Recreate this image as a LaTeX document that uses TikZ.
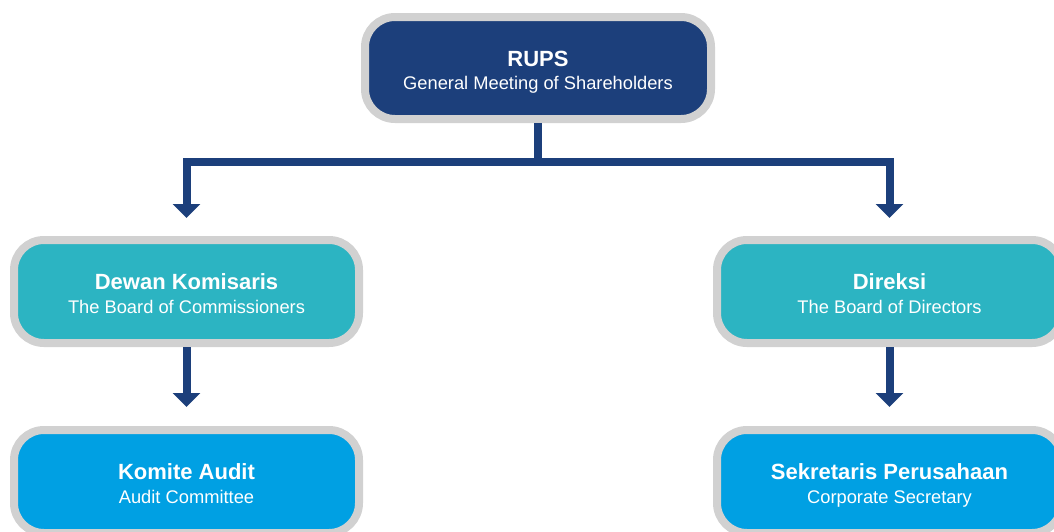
\documentclass[tikz,border=0pt]{standalone}
\usepackage{fontspec}
\setmainfont{Liberation Sans}
\usetikzlibrary{arrows.meta,calc}
\definecolor{navy}{RGB}{28,63,123}
\definecolor{teal}{RGB}{44,180,194}
\definecolor{sky}{RGB}{0,160,227}
\definecolor{rim}{RGB}{209,209,209}
\tikzset{
  box/.style={draw=rim, line width=8pt, rounded corners=30pt, minimum width=345pt, minimum height=103pt, inner sep=0pt, outer sep=4pt},
  ttl/.style={anchor=base, text=white, font=\fontsize{22}{26}\selectfont\bfseries, inner sep=0pt},
  sub/.style={anchor=base, text=white, font=\fontsize{18.3}{22}\selectfont, inner sep=0pt},
  conn/.style={draw=navy, line width=8pt, line join=miter},
  arr/.style={conn, -{Triangle[length=14pt 0 0, width=27pt 0 0]}}
}
\begin{document}
\begin{tikzpicture}[x=1pt,y=-1pt]
\useasboundingbox (0,0) rectangle (1054,531);
\clip (0,0) rectangle (1054,531);
\fill[white] (0,0) rectangle (1054,531);
% boxes
\node[box, fill=navy, minimum width=346pt, minimum height=102pt] (rups) at (538,68) {};
\node[box, fill=teal] (dk) at (186.5,291.5) {};
\node[box, fill=teal] (dir) at (889.5,291.5) {};
\node[box, fill=sky] (ka) at (186.5,481.5) {};
\node[box, fill=sky] (sp) at (889.5,481.5) {};
% texts
\node[ttl] (rupsT) at ($(rups.center)+(0,-2)$) {RUPS};
\node[sub] (rupsS) at ($(rups.center)+(0,21.5)$) {General Meeting of Shareholders};
\node[ttl] (dkT) at ($(dk.center)+(0,-2)$) {Dewan Komisaris};
\node[sub] (dkS) at ($(dk.center)+(0,22)$) {The Board of Commissioners};
\node[ttl] (dirT) at ($(dir.center)+(0,-2)$) {Direksi};
\node[sub] (dirS) at ($(dir.center)+(0,22)$) {The Board of Directors};
\node[ttl] (kaT) at ($(ka.center)+(0,-2)$) {Komite Audit};
\node[sub] (kaS) at ($(ka.center)+(0,22)$) {Audit Committee};
\node[ttl] (spT) at ($(sp.center)+(0,-2)$) {Sekretaris Perusahaan};
\node[sub] (spS) at ($(sp.center)+(0,22)$) {Corporate Secretary};
% connectors
\coordinate (hub) at (538,162);
\draw[conn] (rups.south) -- ($(hub)+(0,4)$);
\draw[arr, shorten >=18pt] (hub) -| (dk.north);
\draw[arr, shorten >=18pt] (hub) -| (dir.north);
\draw[arr, shorten >=19pt] (dk.south) -- (ka.north);
\draw[arr, shorten >=19pt] (dir.south) -- (sp.north);
\end{tikzpicture}
\end{document}
